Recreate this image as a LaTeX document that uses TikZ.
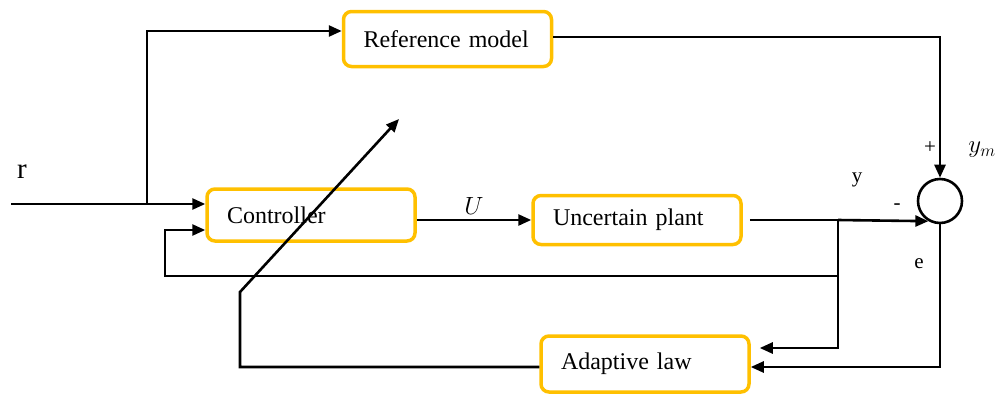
\documentclass[tikz,border=0pt]{standalone}
\usepackage{fontspec}
\setmainfont{Liberation Serif}
\usetikzlibrary{arrows.meta}
\definecolor{blockgold}{RGB}{255,192,0}

\begin{document}
\begin{tikzpicture}[x=1pt, y=-1pt, >={Triangle[length=13pt,width=11pt]},
    every node/.style={font=\fontsize{21}{25}\selectfont},
    block/.style={draw=blockgold, line width=3.5pt, rounded corners=8pt,
        text width=168pt, inner xsep=20pt, align=left,
        font=\fontsize{24}{28}\selectfont},
    sig/.style={line width=2.6pt}]
    \useasboundingbox (0,0) rectangle (998,394);

    % Bloques
    \node[block, minimum height=55pt] (ref) at (447.5,39) {Reference model};
    \node[block, minimum height=52pt] (ctrl) at (311,215) {Controller};
    \node[block, minimum height=49pt] (plant) at (637,220) {Uncertain plant};
    \node[block, minimum height=56pt] (adapt) at (645,364) {Adaptive law};

    % Sumador
    \node[circle, draw, line width=2.6pt, minimum size=44pt, inner sep=0pt] (sum) at (940,201) {};

    % Puntos de ramificacion
    \coordinate (in) at (11,204);
    \coordinate (rbr) at (147,204);
    \coordinate (ybr) at (838,220);
    \coordinate (fbl) at (165,276);
    \coordinate (tune) at (240,292);
    \coordinate (tunetip) at (399,119);

    % Entrada r
    \node[font=\fontsize{29}{33}\selectfont] (rlab) at (22,172) {r};
    \draw[sig, ->] (in) -- (in -| ctrl.west);
    \draw[sig, ->] (rbr) |- ([yshift=8pt]ref.west);

    % Modelo de referencia al sumador
    \draw[sig, ->] ([yshift=2pt]ref.east) -| (sum.north);
    \node (plus) at (930,148) {+};
    \node[font=\fontsize{23}{27}\selectfont] (ymlab) at (982,150) {$y_m$};

    % Controlador a planta
    \draw[sig, ->] ([yshift=-5pt]ctrl.east) -- ([yshift=-5pt]ctrl.east -| plant.west)
        node[midway, above=1pt, font=\fontsize{23}{27}\selectfont] {$U$};

    % Salida de la planta
    \draw[sig] ([xshift=7pt]plant.east) -- (ybr);
    \draw[sig, ->] (ybr) -- (sum.240);
    \node (ylab) at (857,180) {y};
    \node (minus) at (897,207) {-};

    % Realimentacion al controlador
    \draw[sig, ->] (ybr) |- (fbl) |- ([yshift=-15pt]ctrl.west);

    % Senales hacia la ley adaptativa
    \draw[sig, ->] (ybr) |- ([xshift=9pt,yshift=16pt]adapt.east);
    \draw[sig, ->] (sum.south) |- ([yshift=-3pt]adapt.east);
    \node (elab) at (919,264) {e};

    % Ajuste del controlador
    \draw[sig, ->] ([yshift=-3pt]adapt.west) -| (tune) -- (tunetip);
\end{tikzpicture}
\end{document}
